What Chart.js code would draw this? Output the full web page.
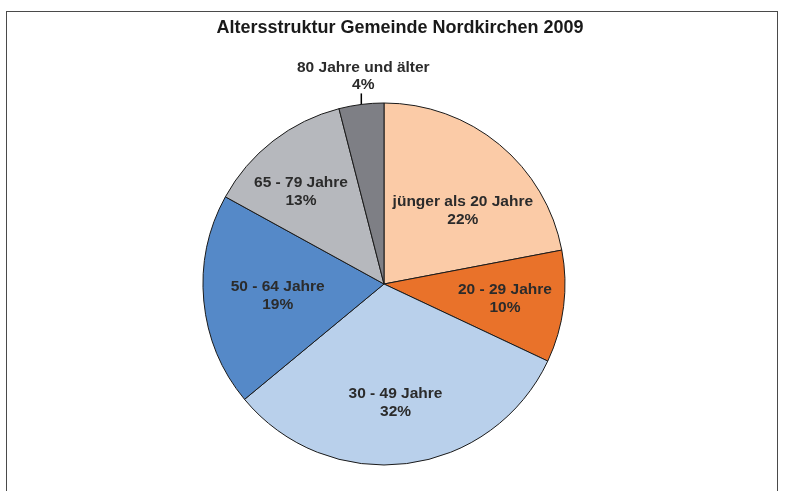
<!DOCTYPE html>
<html>
<head>
<meta charset="utf-8">
<script src="https://cdn.jsdelivr.net/npm/chart.js@4/dist/chart.umd.min.js"></script>
<style>
  html, body { margin: 0; padding: 0; background: #fff; }
  #wrap { position: relative; width: 785px; height: 491px; }
  #frame { position: absolute; left: 6px; top: 11px; width: 772px; height: 490px;
           border: 1px solid #4a4a4a; border-bottom: none; box-sizing: border-box; pointer-events: none; }
  canvas { position: absolute; left: 0; top: 0; }
</style>
</head>
<body>
<div id="wrap">
  <canvas id="c" width="785" height="491"></canvas>
  <div id="frame"></div>
</div>
<script>
const titleText = 'Altersstruktur Gemeinde Nordkirchen 2009';
const categories = ['jünger als 20 Jahre', '20 - 29 Jahre', '30 - 49 Jahre', '50 - 64 Jahre', '65 - 79 Jahre', '80 Jahre und älter'];
const shares = [22, 10, 32, 19, 13, 4];
const sliceColors = ['#FBCBA7', '#E9722A', '#B9D0EB', '#5589C8', '#B6B8BD', '#7E7F85'];
// small best-fit nudges for the inside labels (px), like the spreadsheet's label placement
const labelNudge = [[5, 16], [6, 0], [-3, 4], [9, 1], [-12, -1], [0, 0]];

const FONT = '"Liberation Sans", Arial, sans-serif';

const titlePlugin = {
  id: 'fixedTitle',
  afterDraw(chart) {
    const ctx = chart.ctx;
    ctx.save();
    ctx.font = 'bold 18px ' + FONT;
    ctx.fillStyle = '#1a1a1a';
    ctx.textAlign = 'center';
    ctx.textBaseline = 'middle';
    ctx.fillText(titleText, 400, 28);
    ctx.restore();
  }
};

const labelPlugin = {
  id: 'sliceLabels',
  afterDatasetsDraw(chart) {
    const ctx = chart.ctx;
    const meta = chart.getDatasetMeta(0);
    const data = chart.data.datasets[0].data;
    ctx.save();
    ctx.font = 'bold 15.5px ' + FONT;
    ctx.fillStyle = '#2b2b2b';
    ctx.textAlign = 'center';
    meta.data.forEach((arc, i) => {
      const p = arc.getProps(['x', 'y', 'startAngle', 'endAngle', 'outerRadius'], true);
      const mid = (p.startAngle + p.endAngle) / 2;
      const cos = Math.cos(mid), sin = Math.sin(mid);
      const label = chart.data.labels[i];
      const pct = data[i] + '%';
      if (data[i] < 5) {
        const x1 = p.x + cos * p.outerRadius, y1 = p.y + sin * p.outerRadius;
        const x2 = x1, y2 = y1 - 11;
        ctx.strokeStyle = '#000';
        ctx.lineWidth = 1.5;
        ctx.beginPath();
        ctx.moveTo(x1, y1);
        ctx.lineTo(x2, y2);
        ctx.stroke();
        ctx.textBaseline = 'middle';
        ctx.fillText(pct, x2 + 2, y2 - 9);
        ctx.fillText(label, x2 + 2, y2 - 26);
      } else {
        const r = p.outerRadius * 0.64;
        const cx = p.x + cos * r + labelNudge[i][0], cy = p.y + sin * r + labelNudge[i][1];
        ctx.textBaseline = 'middle';
        ctx.fillText(label, cx, cy - 9);
        ctx.fillText(pct, cx, cy + 9);
      }
    });
    ctx.restore();
  }
};

new Chart(document.getElementById('c'), {
  type: 'pie',
  data: {
    labels: categories,
    datasets: [{
      data: shares,
      backgroundColor: sliceColors,
      borderColor: '#1a1a1a',
      borderWidth: 1
    }]
  },
  options: {
    responsive: false,
    animation: false,
    radius: 181,
    layout: { padding: { top: 103, bottom: 26, left: 0, right: 17 } },
    plugins: {
      legend: { display: false },
      title: { display: false },
      tooltip: { enabled: false }
    }
  },
  plugins: [labelPlugin, titlePlugin]
});
</script>
</body>
</html>
